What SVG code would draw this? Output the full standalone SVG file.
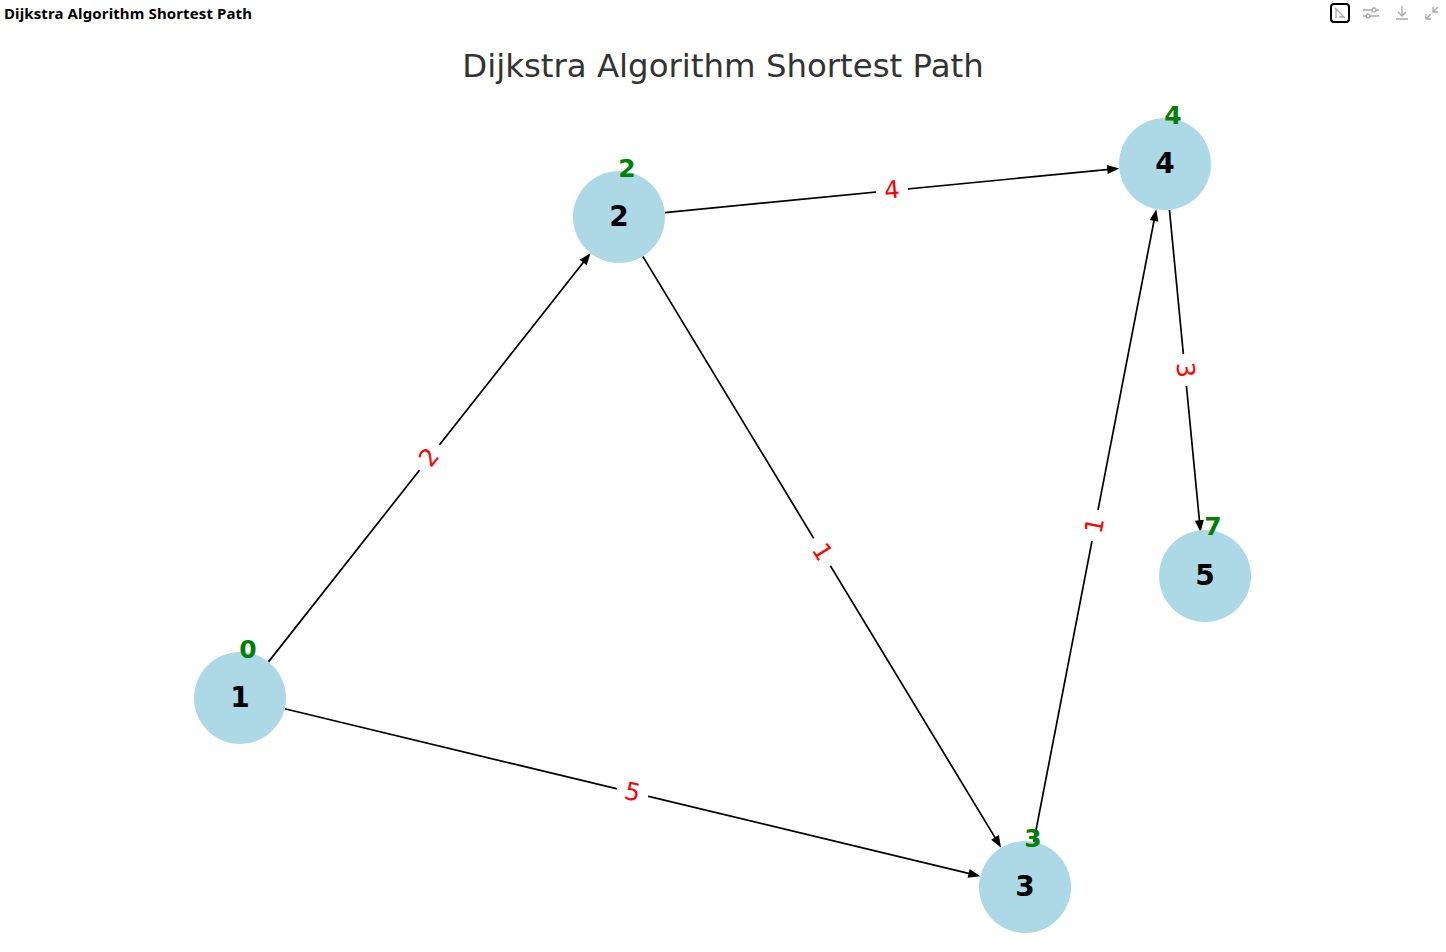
<svg xmlns="http://www.w3.org/2000/svg" width="1446" height="952" viewBox="0 0 1446 952">
<style>
.hdr{font-family:"Noto Sans","Open Sans","DejaVu Sans",sans-serif;font-weight:bold;font-size:15px;fill:#000}
.title{font-family:"DejaVu Sans",sans-serif;font-size:32.4px;fill:#333}
.node{fill:#ADD8E6}
.nl{font-family:"DejaVu Sans",sans-serif;font-weight:bold;font-size:28px;fill:#000;text-anchor:middle}
.dl{font-family:"DejaVu Sans",sans-serif;font-weight:bold;font-size:25px;fill:#008000;text-anchor:middle}
.edge{stroke:#000;stroke-width:1.7;fill:none}
.el{font-family:"DejaVu Sans",sans-serif;font-size:24.5px;fill:#ff0000;text-anchor:middle}
.ico{stroke:#aaa;stroke-width:1.3;fill:none}
</style>
<defs>
<marker id="ah" markerUnits="userSpaceOnUse" markerWidth="16" markerHeight="12" viewBox="0 -6 14 12" refX="2" refY="0" orient="auto">
<path d="M0,-4.5 L12,0 L0,4.5 z" fill="#000"/>
</marker>
</defs>
<rect width="1446" height="952" fill="#fff"/>
<text class="hdr" x="4" y="19" textLength="248">Dijkstra Algorithm Shortest Path</text>
<g id="toolbar">
<rect x="1331" y="4" width="18" height="18" rx="3" fill="none" stroke="#000" stroke-width="2"/>
<path d="M1335,8 L1345,18 M1336,18 L1336,9 L1344,17 L1339,17" class="ico" stroke="#888"/>
<path d="M1363,10 H1379 M1363,16 H1379" class="ico"/>
<circle cx="1374" cy="10" r="2" fill="#fff" stroke="#aaa" stroke-width="1.3"/>
<circle cx="1368" cy="16" r="2" fill="#fff" stroke="#aaa" stroke-width="1.3"/>
<path d="M1402,6 V16 M1398,12 L1402,16 L1406,12 M1396,19 H1408" class="ico"/>
<path d="M1426,19 L1431,14 M1426,14 V19 H1431 M1438,7 L1433,12 M1433,7 V12 H1438" class="ico"/>
</g>
<text class="title" x="723" y="76.5" text-anchor="middle">Dijkstra Algorithm Shortest Path</text>
<g id="connectors">
<line class="edge" x1="268.47" y1="661.87" x2="584.38" y2="260.93" marker-end="url(#ah)"/>
<line class="edge" x1="284.72" y1="708.77" x2="970.56" y2="873.89" marker-end="url(#ah)"/>
<line class="edge" x1="642.84" y1="256.34" x2="995.98" y2="839.11" marker-end="url(#ah)"/>
<line class="edge" x1="664.78" y1="212.56" x2="1109.27" y2="169.41" marker-end="url(#ah)"/>
<line class="edge" x1="1033.74" y1="841.84" x2="1154.36" y2="218.98" marker-end="url(#ah)"/>
<line class="edge" x1="1169.44" y1="209.78" x2="1199.59" y2="522.26" marker-end="url(#ah)"/>
<g transform="translate(429.5,457.5) rotate(-51.76)"><rect x="-16" y="-14" width="32" height="28" fill="#fff"/><text class="el" y="0" dy="7.8">2</text></g>
<g transform="translate(632.5,792.5) rotate(13.54)"><rect x="-16" y="-14" width="32" height="28" fill="#fff"/><text class="el" y="0" dy="7.8">5</text></g>
<g transform="translate(822,552) rotate(58.78)"><rect x="-16" y="-14" width="32" height="28" fill="#fff"/><text class="el" y="0" dy="7.8">1</text></g>
<g transform="translate(892,190.5) rotate(-5.54)"><rect x="-16" y="-14" width="32" height="28" fill="#fff"/><text class="el" y="0" dy="7.8">4</text></g>
<g transform="translate(1095,525.5) rotate(-79.04)"><rect x="-16" y="-14" width="32" height="28" fill="#fff"/><text class="el" y="0" dy="7.8">1</text></g>
<g transform="translate(1185,370) rotate(84.45)"><rect x="-16" y="-14" width="32" height="28" fill="#fff"/><text class="el" y="0" dy="7.8">3</text></g>
</g>
<g id="node1"><circle class="node" cx="240" cy="698" r="46"/><text class="nl" x="240" y="706.8">1</text><text class="dl" x="248" y="658.1">0</text></g>
<g id="node2"><circle class="node" cx="619" cy="217" r="46"/><text class="nl" x="619" y="225.8">2</text><text class="dl" x="627" y="177.1">2</text></g>
<g id="node3"><circle class="node" cx="1025" cy="887" r="46"/><text class="nl" x="1025" y="895.8">3</text><text class="dl" x="1033" y="847.1">3</text></g>
<g id="node4"><circle class="node" cx="1165" cy="164" r="46"/><text class="nl" x="1165" y="172.8">4</text><text class="dl" x="1173" y="124.1">4</text></g>
<g id="node5"><circle class="node" cx="1205" cy="576" r="46"/><text class="nl" x="1205" y="584.8">5</text><text class="dl" x="1213" y="535.1">7</text></g>
</svg>
